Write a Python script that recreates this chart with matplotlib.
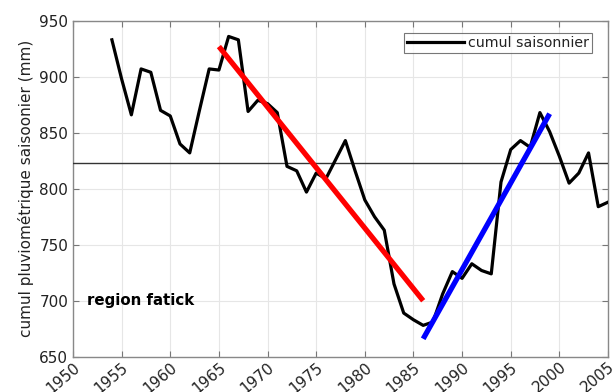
import matplotlib
matplotlib.use("Agg")
import matplotlib.pyplot as plt
import numpy as np

years = list(range(1954, 2006))
cumul = [933, 898, 866, 907, 904, 870, 865, 840, 832, 870, 907, 906, 936, 933, 869,
         879, 876, 868, 820, 816, 797, 814, 809, 826, 843, 816, 790, 775, 763, 715,
         689, 683, 678, 681, 706, 726, 720, 733, 727, 724, 806, 835, 843, 837, 868,
         851, 829, 805, 814, 832, 784, 788]

mean_value = 823

# linear trends over the two sub-periods
trend_down_years = [1965, 1986]
trend_down_values = [927, 700]
trend_up_years = [1986, 1999]
trend_up_values = [666, 867]

xticks = list(range(1950, 2006, 5))
yticks = list(range(650, 951, 50))

fig = plt.figure(figsize=(6.16, 3.92), dpi=100)
ax = fig.add_axes([0.1185, 0.09, 0.987 - 0.1185, 0.947 - 0.09])

ax.plot(years, cumul, color="black", lw=2.3, label="cumul saisonnier", zorder=4)
ax.axhline(mean_value, color="#333333", lw=1.0, zorder=3)
ax.plot(trend_down_years, trend_down_values, color="red", lw=3.8, solid_capstyle="butt", zorder=5)
ax.plot(trend_up_years, trend_up_values, color="blue", lw=3.8, solid_capstyle="butt", zorder=5)

ax.set_xlim(1950, 2005)
ax.set_ylim(650, 950)
ax.set_xticks(xticks)
ax.set_yticks(yticks)
ax.set_xticklabels([str(t) for t in xticks], rotation=40, ha="right", va="top",
                   rotation_mode="anchor", fontsize=11, color="#222222")
ax.set_yticklabels([str(t) for t in yticks], fontsize=11, color="#222222")
ax.tick_params(direction="in", top=True, right=True, length=4, color="#777777")
ax.tick_params(axis="x", pad=2)
ax.grid(True, color="#e6e6e6", lw=0.8)
for s in ax.spines.values():
    s.set_color("#888888")
    s.set_linewidth(1.0)

ax.set_ylabel("cumul pluviométrique saisoonier (mm)", fontsize=11, color="#222222", labelpad=4)
ax.text(1951.4, 700, "region fatick", fontsize=10.8, fontweight="bold", va="center", ha="left")

leg = ax.legend(loc="upper right", bbox_to_anchor=(0.9707, 0.9625), fontsize=10.2,
                frameon=True, fancybox=False, borderaxespad=0,
                borderpad=0.2, handlelength=4.0, handletextpad=0.35)
leg.get_frame().set_edgecolor("#555555")
leg.get_frame().set_linewidth(0.8)
for t in leg.get_texts():
    t.set_color("#222222")

fig.savefig("out.png", dpi=100)
